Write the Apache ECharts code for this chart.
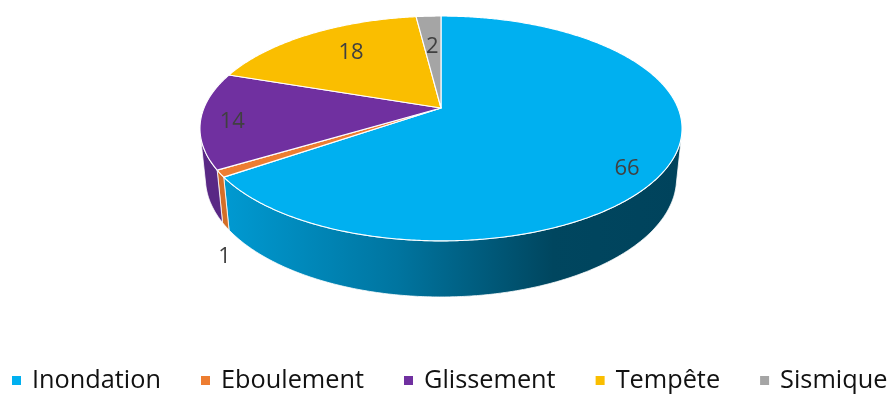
<!DOCTYPE html>
<html>
<head>
<meta charset="utf-8">
<script src="https://cdn.jsdelivr.net/npm/echarts@6/dist/echarts.min.js"></script>
<style>
  html, body { margin: 0; padding: 0; background: #ffffff; }
  #chart { width: 890px; height: 394px; }
</style>
</head>
<body>
<div id="chart"></div>
<script>
// Répartition des événements par type
const categories = ['Inondation', 'Eboulement', 'Glissement', 'Tempête', 'Sismique'];
const values = [66, 1, 14, 18, 2];

// Palette: top faces and side walls
const topColors = ['#00B0F0', '#ED7D31', '#7030A0', '#FABE00', '#A5A5A5'];
const wallColors = [null, '#D46E28', '#592885', '#C99800', '#858585'];

// Label placement on the top face (radius fraction, angular shift in degrees)
const labelFrac = [0.865, null, 0.87, 0.725, 0.66];
const labelShift = [6.6, 0, -0.4, 3.8, 0];

// Perspective camera for a unit disc of thickness H
const CAM = { cx: 441, cy: 108, k: 237, sinP: 0.4586, cosP: 0.8886, p: 0.2048, H: 0.238 };

function proj(theta, r, h) {
  const X = r * Math.sin(theta), Z = r * Math.cos(theta);
  const zc = 1 + CAM.p * (Z * CAM.cosP - h * CAM.sinP);
  return [CAM.cx + CAM.k * X / zc, CAM.cy - CAM.k * (h * CAM.cosP + Z * CAM.sinP) / zc];
}

const total = values.reduce((s, v) => s + v, 0);
const cum = [0];
values.forEach((v, i) => cum.push(cum[i] + v));

// Side wall is visible between the two tangent generators seen from the camera
const tangentCos = -CAM.p / CAM.cosP;
const visA = Math.acos(tangentCos);
const visB = 2 * Math.PI - visA;

function arc(a, b, r, h) {
  const n = Math.max(2, Math.ceil(Math.abs(b - a) / (Math.PI / 360)));
  const pts = [];
  for (let j = 0; j <= n; j++) pts.push(proj(a + (b - a) * j / n, r, h));
  return pts;
}

function renderSlice(params, api) {
  const i = params.seriesIndex;
  const v = api.value(0);
  const start = cum[i] / total * 2 * Math.PI;
  const end = (cum[i] + v) / total * 2 * Math.PI;
  const children = [];

  const a = Math.max(start, visA), b = Math.min(end, visB);
  if (b > a) {
    const pts = arc(a, b, 1, 0).concat(arc(b, a, 1, -CAM.H));
    const fill = i === 0
      ? new echarts.graphic.LinearGradient(222, 0, 682, 0, [
          { offset: 0, color: '#009AD2' },
          { offset: 0.38, color: '#0075A0' },
          { offset: 0.72, color: '#00465F' },
          { offset: 1, color: '#00435C' }
        ], true)
      : wallColors[i];
    children.push({
      type: 'polygon', z2: 1,
      shape: { points: pts },
      style: { fill: fill, stroke: '#ffffff', lineWidth: 0.8 }
    });
  }

  const top = [proj(0, 0, 0)].concat(arc(start, end, 1, 0));
  children.push({
    type: 'polygon', z2: 5,
    shape: { points: top },
    style: { fill: topColors[i], stroke: '#ffffff', lineWidth: 1.1, lineJoin: 'round' }
  });

  const mid = (start + end) / 2;
  let lp;
  if (labelFrac[i] == null) {
    const bottom = proj(mid, 1, -CAM.H);
    lp = [bottom[0] - 1, bottom[1] + 30];
  } else {
    lp = proj(mid + labelShift[i] * Math.PI / 180, labelFrac[i], 0);
    lp = [lp[0], lp[1] + 2.5];
  }
  children.push({
    type: 'text', z2: 10,
    x: lp[0], y: lp[1],
    style: {
      text: String(v),
      fill: '#404040',
      fontSize: 22,
      fontFamily: 'Open Sans',
      align: 'center',
      verticalAlign: 'middle'
    }
  });

  return { type: 'group', children: children };
}

const chart = echarts.init(document.getElementById('chart'), null, { renderer: 'canvas' });

chart.setOption({
  animation: false,
  backgroundColor: '#ffffff',
  legend: {
    data: categories,
    top: 368,
    left: 12,
    padding: 0,
    icon: 'rect',
    itemWidth: 9,
    itemHeight: 9,
    itemGap: 40,
    selectedMode: false,
    textStyle: {
      fontSize: 25.3,
      fontFamily: 'Open Sans',
      color: '#111111',
      padding: [0, 0, 0, 6]
    }
  },
  series: categories.map((name, i) => ({
    type: 'custom',
    name: name,
    coordinateSystem: 'none',
    itemStyle: { color: topColors[i] },
    silent: true,
    renderItem: renderSlice,
    data: [values[i]]
  }))
});
</script>
</body>
</html>
